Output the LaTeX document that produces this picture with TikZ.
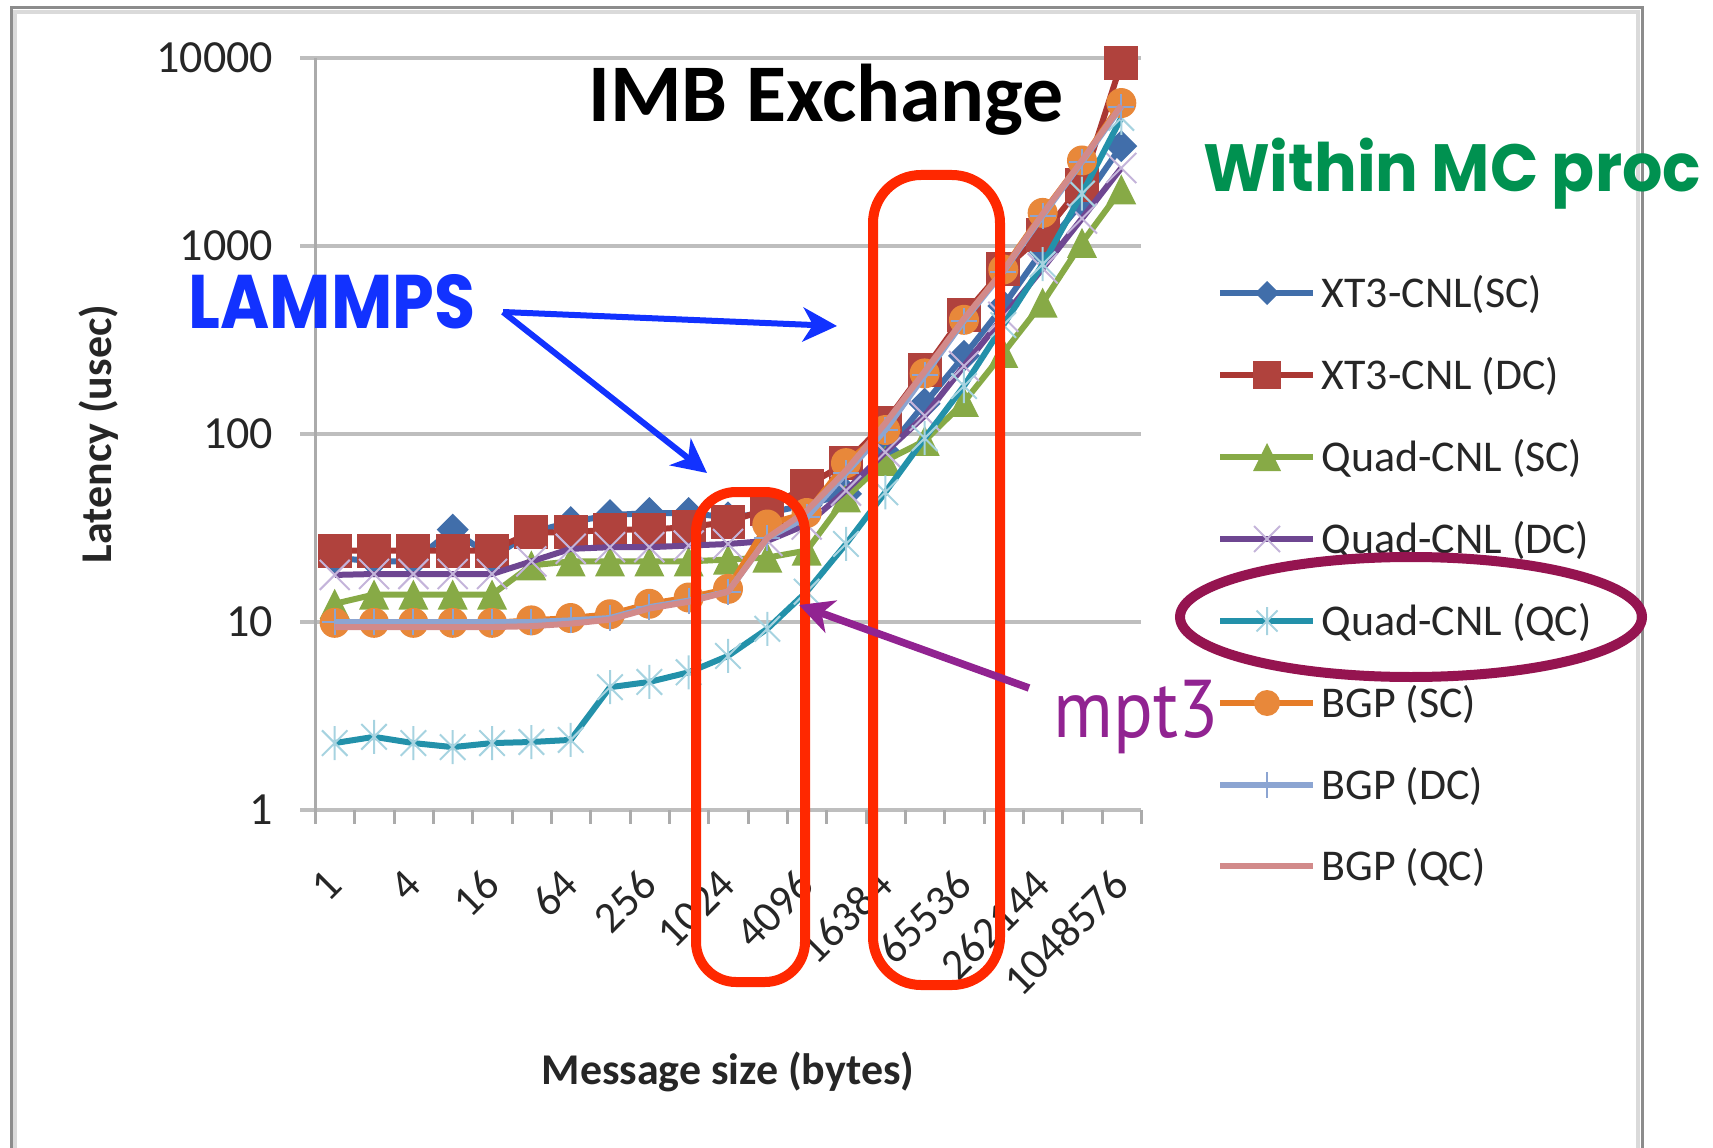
\documentclass[tikz,border=0pt]{standalone}
\usepackage{fontspec}
\setmainfont{Carlito}
\newfontfamily\comicf{Poppins}
\newfontfamily\mptf{PT Sans}
\usetikzlibrary{arrows.meta}
\definecolor{framegray}{HTML}{8C8C8C}
\definecolor{framelight}{HTML}{DADADA}
\definecolor{gridc}{HTML}{BEBEBE}
\definecolor{axisc}{HTML}{ABABAB}
\definecolor{txt}{HTML}{262626}
\definecolor{cA}{HTML}{416EAA}
\definecolor{cB}{HTML}{AA3833}
\definecolor{cBm}{HTML}{B0423D}
\definecolor{cC}{HTML}{87AA46}
\definecolor{cD}{HTML}{6E4691}
\definecolor{cDm}{HTML}{C4B4DA}
\definecolor{cE}{HTML}{2391AA}
\definecolor{cEm}{HTML}{A6D3E0}
\definecolor{cF}{HTML}{E67D28}
\definecolor{cFm}{HTML}{E8883A}
\definecolor{cG}{HTML}{8CA5D2}
\definecolor{cH}{HTML}{D28A8A}
\definecolor{lblue}{HTML}{1232FF}
\definecolor{wgreen}{HTML}{009150}
\definecolor{mpurple}{HTML}{912391}
\definecolor{ellc}{HTML}{951450}
\definecolor{redc}{HTML}{FF2800}
\newcommand\fs[1]{\fontsize{#1}{#1}\selectfont}
\pgfdeclareplotmark{mdiam}{\pgfpathmoveto{\pgfqpoint{0pt}{\pgfplotmarksize}}\pgfpathlineto{\pgfqpoint{\pgfplotmarksize}{0pt}}\pgfpathlineto{\pgfqpoint{0pt}{-\pgfplotmarksize}}\pgfpathlineto{\pgfqpoint{-\pgfplotmarksize}{0pt}}\pgfpathclose\pgfusepathqfill}
\pgfdeclareplotmark{msq}{\pgfpathrectangle{\pgfqpoint{-\pgfplotmarksize}{-\pgfplotmarksize}}{\pgfqpoint{2\pgfplotmarksize}{2\pgfplotmarksize}}\pgfusepathqfill}
\pgfdeclareplotmark{mtri}{\pgfpathmoveto{\pgfqpoint{0pt}{\pgfplotmarksize}}\pgfpathlineto{\pgfqpoint{\pgfplotmarksize}{-\pgfplotmarksize}}\pgfpathlineto{\pgfqpoint{-\pgfplotmarksize}{-\pgfplotmarksize}}\pgfpathclose\pgfusepathqfill}
\pgfdeclareplotmark{mcirc}{\pgfpathcircle{\pgfpointorigin}{\pgfplotmarksize}\pgfusepathqfill}
\pgfdeclareplotmark{mstar}{\pgfpathmoveto{\pgfqpoint{0pt}{\pgfplotmarksize}}\pgfpathlineto{\pgfqpoint{0pt}{-\pgfplotmarksize}}\pgfpathmoveto{\pgfqpoint{-.75\pgfplotmarksize}{-.75\pgfplotmarksize}}\pgfpathlineto{\pgfqpoint{.75\pgfplotmarksize}{.75\pgfplotmarksize}}\pgfpathmoveto{\pgfqpoint{-.75\pgfplotmarksize}{.75\pgfplotmarksize}}\pgfpathlineto{\pgfqpoint{.75\pgfplotmarksize}{-.75\pgfplotmarksize}}\pgfusepathqstroke}
\pgfdeclareplotmark{mx}{\pgfpathmoveto{\pgfqpoint{-\pgfplotmarksize}{-\pgfplotmarksize}}\pgfpathlineto{\pgfqpoint{\pgfplotmarksize}{\pgfplotmarksize}}\pgfpathmoveto{\pgfqpoint{-\pgfplotmarksize}{\pgfplotmarksize}}\pgfpathlineto{\pgfqpoint{\pgfplotmarksize}{-\pgfplotmarksize}}\pgfusepathqstroke}
\pgfdeclareplotmark{mplus}{\pgfpathmoveto{\pgfqpoint{0pt}{\pgfplotmarksize}}\pgfpathlineto{\pgfqpoint{0pt}{-\pgfplotmarksize}}\pgfpathmoveto{\pgfqpoint{-\pgfplotmarksize}{0pt}}\pgfpathlineto{\pgfqpoint{\pgfplotmarksize}{0pt}}\pgfusepathqstroke}
\newcommand\mkcoords[2]{%
  \gdef#1{}%
  \foreach \v [count=\i from 0] in {#2} {%
    \pgfmathsetmacro\xx{334.7+39.33*\i}%
    \pgfmathsetmacro\yy{810-188*log10(\v)}%
    \xdef#1{#1 (\xx,\yy)}%
  }%
}
\newcommand\plotseries[2]{\expandafter\plotaux\expandafter{#2}{#1}}
\newcommand\plotaux[2]{\draw[#2] plot coordinates {#1};}
\mkcoords\coordsA{22,21,21,31,22,30,34,37,38,38,36,38,42,48,80,145,260,480,950,1700,3400}
\mkcoords\coordsB{24,24,24,24,24,30,30,31,31,32,34,40,53,70,115,220,430,750,1150,2100,9400}
\mkcoords\coordsC{12.5,14,14,14,14,20,21,21,21,21,21.5,22,24,46,72,92,148,270,500,1040,2000}
\mkcoords\coordsD{17.8,18,18,18,18,21,24.5,25,25,25.5,26,27,33,50,80,125,230,420,760,1400,2600}
\mkcoords\coordsE{2.27,2.45,2.27,2.16,2.27,2.3,2.36,4.5,4.8,5.4,6.6,9.2,14.5,26,49,95,180,380,800,1900,4800}
\mkcoords\coordsF{9.9,9.9,9.9,9.9,9.9,10.2,10.5,11,12.5,13.5,15,33,38,70,105,210,405,750,1500,2850,5760}
\mkcoords\coordsG{10,10,10,10,10,10,10.2,10.5,12,13,14.5,28,36,62,105,205,400,730,1450,2800,5500}
\mkcoords\coordsH{9.4,9.4,9.4,9.4,9.4,9.5,9.8,10.3,11.8,12.8,14.5,28,39,64,114,215,410,740,1480,2850,5600}
\tikzset{
  gridl/.style={gridc, line width=0.35mm},
  axisl/.style={axisc, line width=0.3mm},
  ylab/.style={anchor=east, inner sep=0pt, text=txt, font=\fs{13.1pt}},
  xlab/.style={anchor=east, inner sep=0pt, rotate=45, text=txt, font=\fs{12.5pt}},
  axtitle/.style={inner sep=0pt, text=txt, font=\bfseries\fs{12.5pt}},
  legtext/.style={anchor=base west, inner sep=0pt, text=txt, font=\fs{12.5pt}},
  serline/.style={line width=0.6mm, line join=round},
  sA/.style={serline, cA, mark=mdiam, mark options={fill=cA, draw=none}},
  sB/.style={serline, cB, mark=msq, mark options={fill=cBm, draw=none}},
  sC/.style={serline, cC, mark=mtri, mark options={fill=cC, draw=none}},
  sD/.style={serline, cD, mark=mx, mark options={draw=cDm, line width=0.2mm}},
  sE/.style={serline, cE, mark=mstar, mark options={draw=cEm, line width=0.2mm}},
  sF/.style={serline, cF, mark=mcirc, mark options={fill=cFm, draw=none}},
  sG/.style={serline, cG, mark=mplus, mark options={draw=cG, line width=0.2mm}},
  sH/.style={serline, cH, mark=none},
  bluearrow/.style={lblue, line width=0.6mm, -{Stealth[length=3.4mm, width=3.4mm, inset=1mm]}},
  purparrow/.style={mpurple, line width=0.75mm, -{Stealth[length=3.4mm, width=3.4mm, inset=1mm]}},
  redbox/.style={redc, line width=1mm},
  ellip/.style={ellc, line width=1mm}
}
\begin{document}
\begin{tikzpicture}[x=0.1mm, y=-0.1mm]
\useasboundingbox (0,0) rectangle (1713,1148);
% frame
\draw[framelight, line width=0.35mm] (15,1160) -- (15,12) -- (1638,12) -- (1638,1160);
\draw[framegray, line width=0.3mm] (11,1160) -- (11,8) -- (1642,8) -- (1642,1160);
% grid
\foreach \g in {1,...,4} \draw[gridl] (300,{810-188*\g}) -- (1141,{810-188*\g});
\draw[gridl] (300,810) -- (1141,810);
\draw[axisl] (315.5,58) -- (315.5,810);
\foreach \k in {0,...,21} \draw[axisl] ({315.5+39.33*\k},810) -- ({315.5+39.33*\k},824);
% y labels
\node[ylab] (y0) at (274,810) {1};
\node[ylab] (y1) at (274,622) {10};
\node[ylab] (y2) at (274,434) {100};
\node[ylab] (y3) at (274,246) {1000};
\node[ylab] (y4) at (274,58) {10000};
% x labels
\foreach \lab [count=\j from 0] in {1,4,16,64,256,1024,4096,16384,65536,262144,1048576}
  \node[xlab] (x\j) at ({334.7+78.66*\j},877) {\lab};
% titles
\node[axtitle, rotate=90] (ytitle) at (99,434) {Latency (usec)};
\node[axtitle, anchor=base] (xtitle) at (728,1084) {Message size (bytes)};
\node[anchor=base, inner sep=0pt, font=\bfseries\fs{23.3pt}] (title) at (826,122) {IMB Exchange};
% series
\plotseries{sA, mark size=1.6mm}{\coordsA}
\plotseries{sB, mark size=1.7mm}{\coordsB}
\plotseries{sC, mark size=1.5mm}{\coordsC}
\plotseries{sD, mark size=1.5mm}{\coordsD}
\plotseries{sE, mark size=1.7mm}{\coordsE}
\plotseries{sF, mark size=1.5mm}{\coordsF}
\plotseries{sG, mark size=1.3mm}{\coordsG}
\plotseries{sH}{\coordsH}
% legend
\draw[sA, mark size=1.2mm, mark indices={2}] plot coordinates {(1220,293) (1267,293) (1313,293)};
\draw[sB, mark size=1.4mm, mark indices={2}] plot coordinates {(1220,375) (1267,375) (1313,375)};
\draw[sC, mark size=1.4mm, mark indices={2}] plot coordinates {(1220,457) (1267,457) (1313,457)};
\draw[sD, mark size=1.3mm, mark indices={2}] plot coordinates {(1220,539) (1267,539) (1313,539)};
\draw[sE, mark size=1.4mm, mark indices={2}] plot coordinates {(1220,621) (1267,621) (1313,621)};
\draw[sF, mark size=1.3mm, mark indices={2}] plot coordinates {(1220,703) (1267,703) (1313,703)};
\draw[sG, mark size=1.3mm, mark indices={2}] plot coordinates {(1220,785) (1267,785) (1313,785)};
\draw[sH] plot coordinates {(1220,866) (1313,866)};
\node[legtext] (l1) at (1321,307) {XT3-CNL(SC)};
\node[legtext] (l2) at (1321,389) {XT3-CNL (DC)};
\node[legtext] (l3) at (1321,471) {Quad-CNL (SC)};
\node[legtext] (l4) at (1321,553) {Quad-CNL (DC)};
\node[legtext] (l5) at (1321,635) {Quad-CNL (QC)};
\node[legtext] (l6) at (1321,717) {BGP (SC)};
\node[legtext] (l7) at (1321,799) {BGP (DC)};
\node[legtext] (l8) at (1321,880) {BGP (QC)};
% annotations
\draw[redbox, rounded corners=4mm] (696,492) rectangle (805,982);
\draw[redbox, rounded corners=4.8mm] (873,175) rectangle (1000,985);
\draw[ellip] (1411,617) ellipse [x radius=23.1mm, y radius=6mm];
\node[anchor=base, inner sep=0pt, text=lblue, font=\comicf\bfseries\fs{21.6pt}] (lammps) at (332,328) {\scalebox{0.88}[1]{LAMMPS}};
\node[anchor=base, inner sep=0pt, text=wgreen, font=\comicf\bfseries\fs{19pt}] (within) at (1452,192) {\scalebox{0.95}[1]{Within MC proc}};
\node[anchor=base, inner sep=0pt, text=mpurple, font=\mptf\fs{23.3pt}] (mpt) at (1136,737) {\scalebox{0.9}[1]{mpt3}};
\coordinate (lv) at (503,312);
\coordinate (lt1) at (837,326);
\coordinate (lt2) at (707,473);
\draw[bluearrow] (lv) -- (lt1);
\draw[bluearrow] (lv) -- (lt2);
\coordinate (mtail) at (1029,688);
\coordinate (mhead) at (799,605);
\draw[purparrow] (mtail) -- (mhead);
\end{tikzpicture}
\end{document}
